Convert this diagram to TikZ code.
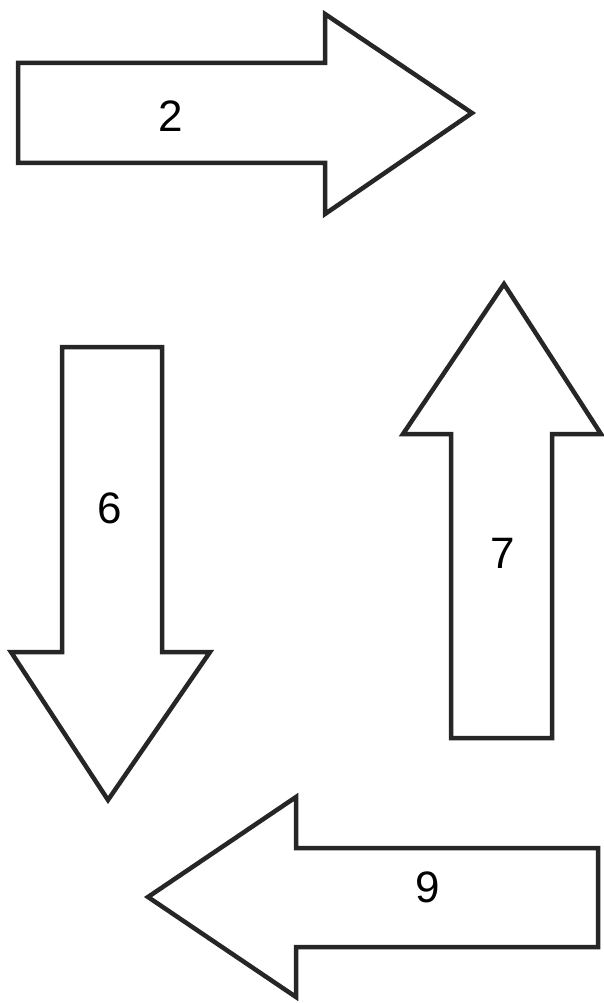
\documentclass[tikz,border=0pt]{standalone}
\usepackage{fontspec}
\setmainfont{Liberation Sans}
\begin{document}
\begin{tikzpicture}[x=1pt,y=-1pt,
  arrowshape/.style={draw=black!85,line width=4.5pt,line join=miter,fill=white},
  numlabel/.style={font=\fontsize{44}{52}\selectfont,inner sep=0pt}]
\useasboundingbox (0,0) rectangle (603,1003);
% arrow 2 (right)
\draw[arrowshape] (18,63) -- (325,63) -- (325,14) -- (472,113) -- (325,214) -- (325,163) -- (18,163) -- cycle;
\node[numlabel] (l2) at (171,116) {2};
% arrow 6 (down)
\draw[arrowshape] (62,347) -- (162,347) -- (162,652) -- (210,652) -- (108,800) -- (11,652) -- (62,652) -- cycle;
\node[numlabel] (l6) at (110,508) {6};
% arrow 7 (up)
\draw[arrowshape] (451,738) -- (552,738) -- (552,434) -- (601,434) -- (504,284) -- (403,434) -- (451,434) -- cycle;
\node[numlabel] (l7) at (503,553) {7};
% arrow 9 (left)
\draw[arrowshape] (598,848) -- (296,848) -- (296,797) -- (148,897) -- (296,997) -- (296,947) -- (598,947) -- cycle;
\node[numlabel] (l9) at (428,887) {9};
\end{tikzpicture}
\end{document}
